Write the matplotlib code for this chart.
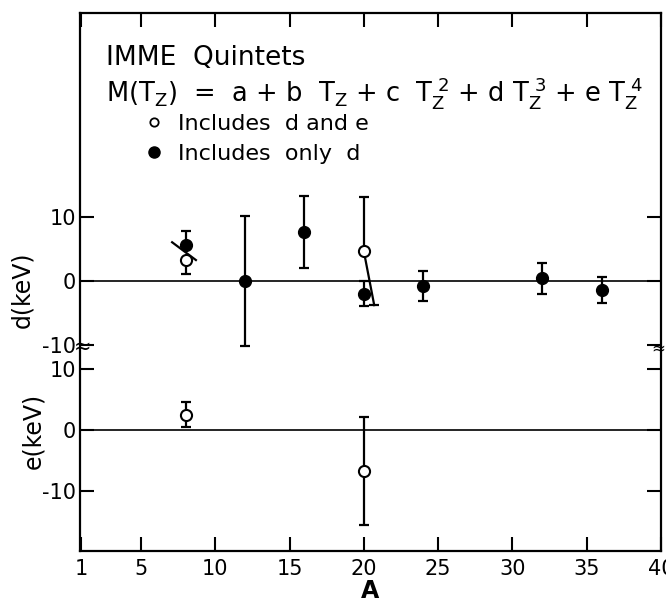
import numpy as np
import matplotlib.pyplot as plt
from matplotlib.lines import Line2D

plt.rcParams['font.family'] = ['DejaVu Sans']
plt.rcParams['mathtext.fontset'] = 'dejavusans'
plt.rcParams['axes.unicode_minus'] = False

# d coefficient from fits including d and e (open circles)
A_open = [8, 20]
d_open = [3.3, 4.7]
d_open_err = [2.2, 8.5]

# d coefficient from fits including only d (filled circles)
A_full = [8, 12, 16, 20, 24, 32, 36]
d_full = [5.7, 0.0, 7.7, -2.0, -0.8, 0.4, -1.4]
d_full_err = [2.2, 10.3, 5.7, 2.0, 2.4, 2.4, 2.0]

# e coefficient (open circles)
A_e = [8, 20]
e_val = [2.5, -6.7]
e_err = [2.1, 8.8]

# slanted connector drawn at A=8 in the d panel
slant8_A = [7.1, 8.7]
slant8_d = [6.1, 3.3]
# A=20 open point: lower bar drawn slanted
slant20_A = [20.0, 20.7]

xticks = [1, 5, 10, 15, 20, 25, 30, 35, 40]

W, H = 666, 604
fig = plt.figure(figsize=(W/100, H/100), dpi=100)
L, R, T, M, B = 80, 661, 13, 348, 551
ax1 = fig.add_axes([L/W, 1-M/H, (R-L)/W, (M-T)/H])
ax2 = fig.add_axes([L/W, 1-B/H, (R-L)/W, (B-M)/H])

lw = 1.6
ekw = dict(ecolor='k', elinewidth=lw, capsize=3.5, capthick=lw, ls='none')

# ---- d panel
ax1.axhline(0, color='k', lw=1.2, zorder=1)
# A=8 pair: only the outer halves of the bars, joined by a slanted line
ax1.plot(slant8_A, slant8_d, color='k', lw=lw, zorder=2)
ax1.errorbar(A_full[0], d_full[0], yerr=[[0], [d_full_err[0]]], **ekw)
ax1.errorbar(A_open[0], d_open[0], yerr=[[d_open_err[0]], [0]], **ekw)
# A=20 open point: upper bar straight, lower bar slanted
ax1.errorbar(A_open[1], d_open[1], yerr=[[0], [d_open_err[1]]], **ekw)
ax1.plot(slant20_A, [d_open[1], d_open[1]-d_open_err[1]], color='k', lw=lw, zorder=2)
ax1.plot(slant20_A[1], d_open[1]-d_open_err[1], marker='_', ms=7, mew=lw, color='k')
ax1.errorbar(A_full[1:], d_full[1:], yerr=d_full_err[1:], **ekw)
ax1.plot(A_full, d_full, 'o', color='k', ms=8.5, ls='none', zorder=4)
ax1.plot(A_open, d_open, 'o', mfc='white', mec='k', mew=1.5, ms=8, ls='none', zorder=5)

ax1.set_xlim(0.9, 40)
ax1.set_ylim(-10.55, 42.2)
ax1.set_yticks([-10, 0, 10])
ax1.set_xticks(xticks)
ax1.xaxis.set_ticks_position('top')
ax1.yaxis.set_ticks_position('both')
ax1.tick_params(axis='x', direction='in', length=10, width=1.5, labeltop=False)
ax1.tick_params(axis='y', direction='in', length=10, width=1.5, labelsize=15, pad=3)
ax1.spines['bottom'].set_visible(False)

ax1.text(0.045, 0.845, 'IMME  Quintets', transform=ax1.transAxes, fontsize=19)
ax1.text(0.045, 0.735,
         r'M(T$_\mathsf{Z}$)  =  a + b  T$_\mathsf{Z}$ + c  T$_\mathsf{Z}^{\ 2}$ + d T$_\mathsf{Z}^{\ 3}$ + e T$_\mathsf{Z}^{\ 4}$',
         transform=ax1.transAxes, fontsize=18.5)

h_open = Line2D([], [], marker='o', mfc='white', mec='k', mew=1.3, ms=6, ls='none')
h_full = Line2D([], [], marker='o', color='k', ms=8, ls='none')
ax1.legend([h_open, h_full], ['Includes  d and e', 'Includes  only  d'],
           loc='upper left', bbox_to_anchor=(0.112, 0.70), frameon=False,
           fontsize=16, handlelength=0.8, handletextpad=0.7, labelspacing=0.48,
           borderpad=0, borderaxespad=0)

# ---- e panel
ax2.axhline(0, color='k', lw=1.2, zorder=1)
ax2.errorbar(A_e, e_val, yerr=e_err, **ekw)
ax2.plot(A_e, e_val, 'o', mfc='white', mec='k', mew=1.5, ms=8, ls='none', zorder=5)
ax2.set_xlim(0.9, 40)
ax2.set_ylim(-19.8, 13.4)
ax2.set_yticks([-10, 0, 10])
ax2.set_xticks(xticks)
ax2.xaxis.set_ticks_position('bottom')
ax2.yaxis.set_ticks_position('both')
ax2.tick_params(axis='x', direction='in', length=10, width=1.5, labelsize=15, pad=6)
ax2.tick_params(axis='y', direction='in', length=10, width=1.5, labelsize=15, pad=3)
ax2.spines['top'].set_visible(False)
ax2.set_xlabel('A', fontsize=17, fontweight='bold', labelpad=0)

for ax in (ax1, ax2):
    for s in ax.spines.values():
        s.set_linewidth(1.6)

# axis break marks and y labels
fig.text((L+3)/W, 1-347/H, '≈', fontsize=15, ha='center', va='center')
fig.text((R-3)/W, 1-348/H, '≈', fontsize=12, ha='center', va='center')
fig.text(22/W, 1-290/H, 'd(keV)', rotation=90, fontsize=17, ha='center', va='center')
fig.text(33/W, 1-431/H, 'e(keV)', rotation=90, fontsize=17, ha='center', va='center')

plt.savefig('out.png', dpi=100)
